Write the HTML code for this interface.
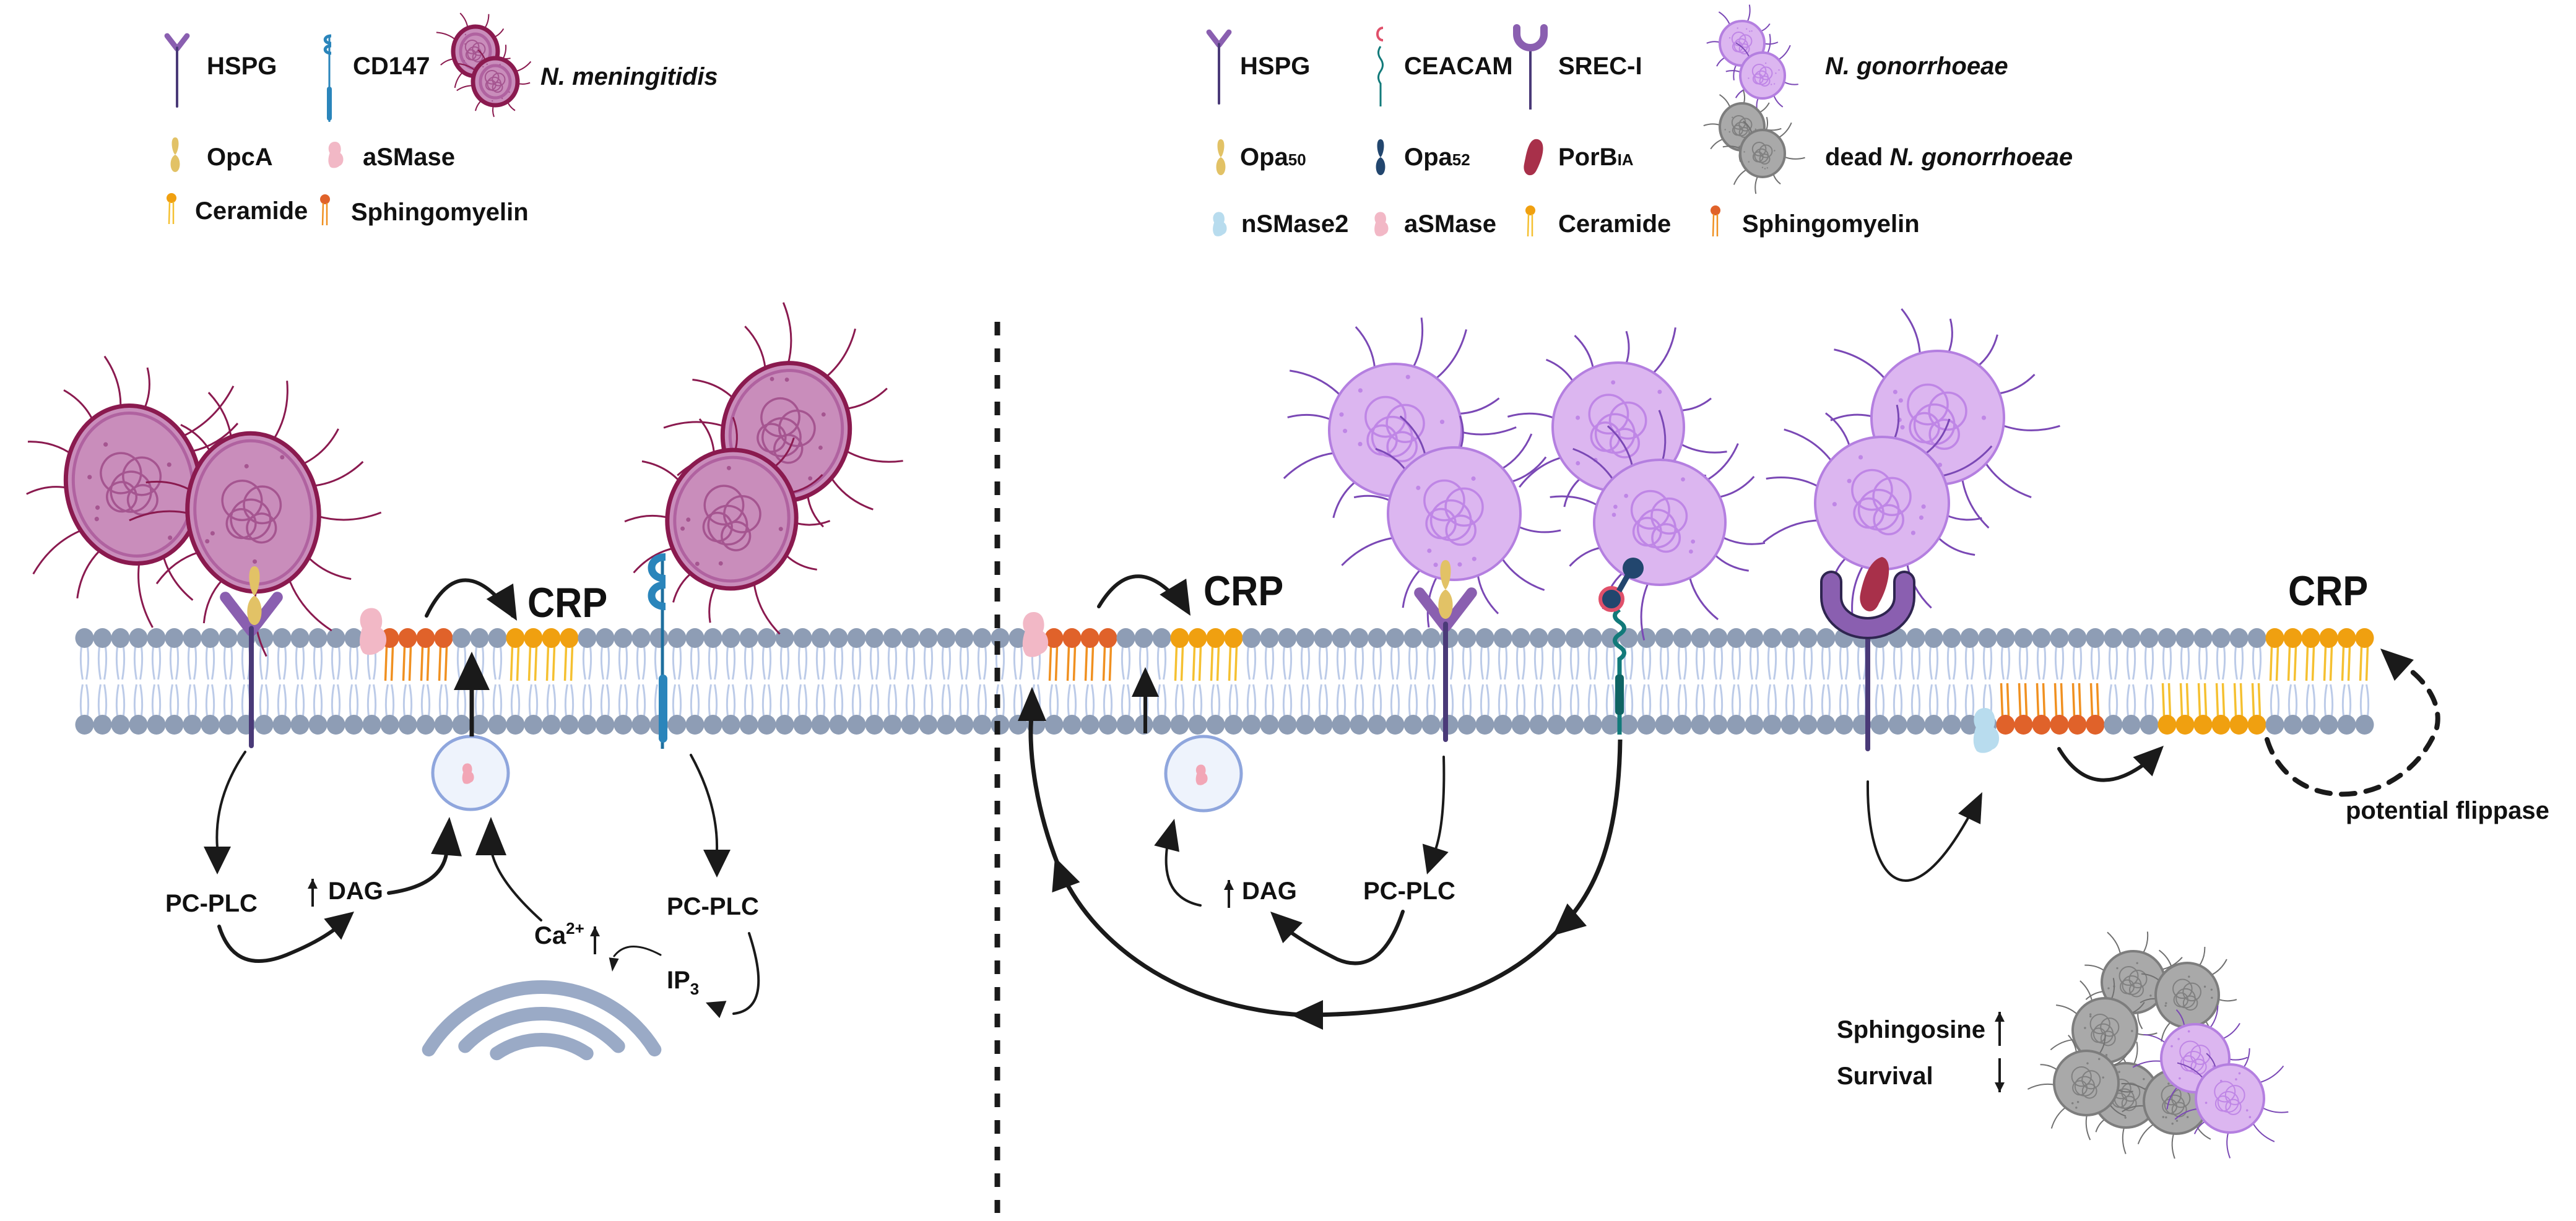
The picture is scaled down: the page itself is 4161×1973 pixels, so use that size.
<!DOCTYPE html>
<html><head><meta charset="utf-8">
<style>
html,body{margin:0;padding:0;background:#fff;}
svg{display:block;}
text{font-family:"Liberation Sans",Arial,sans-serif;font-weight:bold;fill:#111;}
</style></head>
<body>
<svg id="s" width="4161" height="1973" viewBox="0 0 4161 1973" xmlns="http://www.w3.org/2000/svg">
</svg>
<script>
(function(){
var S=document.getElementById('s');
var o='';
var seed=7;function rnd(){seed=(seed*9301+49297)%233280;return seed/233280;}
function head(x,y,ang,L,W){var c=Math.cos(ang),s=Math.sin(ang);
 var bx=x-c*L,by=y-s*L;
 return '<polygon points="'+x+','+y+' '+(bx-s*W/2)+','+(by+c*W/2)+' '+(bx+s*W/2)+','+(by-c*W/2)+'" fill="#1a1a1a"/>';}
function arrow(d,ex,ey,px,py,sw,L,W,dash){
 o+='<path d="'+d+'" fill="none" stroke="#1a1a1a" stroke-width="'+sw+'" stroke-linecap="round"'+(dash?' stroke-dasharray="'+dash+'"':'')+'/>';
 o+=head(ex,ey,Math.atan2(ey-py,ex-px),L,W);}
var x0=122,sp=29,N=128;
var m='';
for(var k=0;k<N;k++){var cx=x0+14.5+sp*k;
 m+='<path d="M'+(cx-5)+' 1045 Q'+(cx-8)+' 1070 '+(cx-3)+' 1098 M'+(cx+5)+' 1045 Q'+(cx+8)+' 1070 '+(cx+3)+' 1098 M'+(cx-3)+' 1106 Q'+(cx-8)+' 1132 '+(cx-5)+' 1157 M'+(cx+3)+' 1106 Q'+(cx+8)+' 1132 '+(cx+5)+' 1157" stroke="#bccbe8" stroke-width="3" fill="none"/>';
}
o+=m;
function lipid(k,top,col,tc){var cx=x0+14.5+sp*k;
 var y1=top?1045:1157,y2=top?1100:1104;
 o+='<rect x="'+(cx-13)+'" y="'+Math.min(y1,y2)+'" width="26" height="'+Math.abs(y2-y1)+'" fill="#fff"/>';
 o+='<path d="M'+(cx-5)+' '+y1+' L'+(cx-7)+' '+y2+' M'+(cx+5)+' '+y1+' L'+(cx+3)+' '+y2+'" stroke="'+tc+'" stroke-width="3.5" fill="none"/>';
 return cx;}
var spec={};
function setSpec(a,b,top,col,tc){for(var k=a;k<=b;k++){lipid(k,top,col,tc);spec[(top?'t':'b')+k]=col;}}
setSpec(17,20,true,'#e0622a','#f09020');
setSpec(24,27,true,'#f0a010','#f5c030');
setSpec(54,57,true,'#e0622a','#f09020');
setSpec(61,64,true,'#f0a010','#f5c030');
setSpec(122,127,true,'#f0a010','#f5c030');
setSpec(107,112,false,'#e0622a','#f09020');
setSpec(116,121,false,'#f0a010','#f5c030');
for(var k=0;k<N;k++){var cx=x0+14.5+sp*k;
 o+='<ellipse cx="'+cx+'" cy="1031" rx="15" ry="16" fill="'+(spec['t'+k]||'#8e9db5')+'"/>';
 o+='<ellipse cx="'+cx+'" cy="1171" rx="15" ry="16" fill="'+(spec['b'+k]||'#8e9db5')+'"/>';}
function cell(cx,cy,rx,ry,t,hairs,rot){
 var P={m:{f:'#c98dbb',s:'#8a1a4f',h:'#8a1a4f',i:'#a55590',sw:7},
        g:{f:'#dcb6f0',s:'#b47fe0',h:'#7a48b5',i:'#bf86e6',sw:4},
        d:{f:'#a9a9a9',s:'#7d7d7d',h:'#707070',i:'#808080',sw:4}}[t];
 var r='';var n=hairs||12;
 for(var i=0;i<n;i++){var a=(i/n)*Math.PI*2+rnd()*0.3;var c=Math.cos(a),s=Math.sin(a);
  var ex=cx+c*rx*0.97,ey=cy+s*ry*0.97;var L=(0.5+rnd()*0.4)*Math.max(rx,ry);
  var mx=ex+c*L*0.5-s*L*0.12,my=ey+s*L*0.5+c*L*0.12;
  r+='<path d="M'+ex+' '+ey+' Q'+mx+' '+my+' '+(ex+c*L+s*L*0.1)+' '+(ey+s*L-c*L*0.1)+'" stroke="'+P.h+'" stroke-width="'+(Math.max(rx,ry)>70?3:2)+'" fill="none"/>';}
 var g='<g transform="rotate('+(rot||0)+' '+cx+' '+cy+')">';
 g+='<ellipse cx="'+cx+'" cy="'+cy+'" rx="'+rx+'" ry="'+ry+'" fill="'+P.f+'" stroke="'+P.s+'" stroke-width="'+P.sw+'"/>';
 if(t=='m')g+='<ellipse cx="'+cx+'" cy="'+cy+'" rx="'+(rx-12)+'" ry="'+(ry-12)+'" fill="none" stroke="#b062a0" stroke-width="5"/>';
 var q=Math.min(rx,ry);
 var offs=[[-0.15,-0.2,0.3],[0.15,-0.1,0.28],[-0.05,0.1,0.3],[0.1,0.25,0.22],[-0.2,0.15,0.22]];
 for(var j=0;j<offs.length;j++)g+='<circle cx="'+(cx+offs[j][0]*q)+'" cy="'+(cy+offs[j][1]*q)+'" r="'+(offs[j][2]*q)+'" fill="none" stroke="'+P.i+'" stroke-width="'+(q>60?3.5:2)+'"/>';
 for(var j=0;j<6;j++){var a=rnd()*6.28,rr=0.55+rnd()*0.3;g+='<circle cx="'+(cx+Math.cos(a)*rx*rr)+'" cy="'+(cy+Math.sin(a)*ry*rr)+'" r="'+(q/30)+'" fill="'+P.i+'"/>';}
 g+='</g>';
 o+=r+g;}
cell(215,783,108,128,'m',13,-10);
cell(409,828,106,128,'m',13,-6);
cell(1270,698,102,112,'m',12,15);
cell(1182,839,104,112,'m',12,8);
cell(2254,695,107,107,'g',12,0);
cell(2349,830,107,107,'g',12,0);
cell(2614,690,106,104,'g',12,0);
cell(2681,844,106,101,'g',12,0);
cell(3130,675,107,108,'g',12,0);
cell(3040,813,108,107,'g',12,0);
cell(3446,1587,51,50,'d',9);cell(3533,1608,51,52,'d',9);cell(3400,1665,52,52,'d',9);
cell(3434,1770,52,52,'d',9);cell(3370,1750,52,52,'d',9);cell(3515,1780,52,52,'d',9);
cell(3546,1710,55,55,'g',9);cell(3602,1775,55,55,'g',9);
cell(768,83,36,40,'m',9);cell(800,132,36,38,'m',9);
cell(2814,70,36,36,'g',8);cell(2847,122,36,37,'g',8);
cell(2814,205,36,38,'d',8);cell(2847,248,36,38,'d',8);
S.insertAdjacentHTML('beforeend',o);o='';
function hspg(x,top,bot,sw,arm){o+='<path d="M'+(x-arm)+' '+top+' L'+x+' '+(top+arm*1.3)+' L'+(x+arm)+' '+top+'" stroke="#8a5fb0" stroke-width="'+(sw*2.2)+'" fill="none" stroke-linejoin="round" stroke-linecap="round"/>';
 o+='<line x1="'+x+'" y1="'+(top+arm*1.2)+'" x2="'+x+'" y2="'+bot+'" stroke="#4a3a78" stroke-width="'+sw+'" stroke-linecap="round"/>';}
hspg(406,965,1205,8,42);
hspg(2335,958,1195,8,42);
hspg(286,58,172,4,16);hspg(1969,52,167,4,16);
function opa(x,y1,y2,c,w){var m=(y1+y2)/2;o+='<path d="M'+x+' '+y1+' C'+(x+w)+' '+y1+' '+(x+w*0.6)+' '+(m-w*0.5)+' '+x+' '+m+' C'+(x+w*1.2)+' '+(m+w*0.6)+' '+(x+w)+' '+y2+' '+x+' '+y2+' C'+(x-w)+' '+y2+' '+(x-w*1.2)+' '+(m+w*0.6)+' '+x+' '+m+' C'+(x-w*0.6)+' '+(m-w*0.5)+' '+(x-w)+' '+y1+' '+x+' '+y1+'Z" fill="'+c+'"/>';}
opa(411,915,1010,'#e2c266',14);opa(2335,905,1000,'#e2c266',14);
opa(283,222,278,'#e2c266',9);opa(1972,225,283,'#e2c266',9);opa(2230,225,283,'#22466e',9);
o+='<line x1="1070" y1="900" x2="1070" y2="1210" stroke="#1e6f9e" stroke-width="5"/>';
o+='<path d="M1075 900 C1045 900 1045 935 1075 935 M1075 945 C1045 945 1045 980 1075 980" stroke="#2a85bb" stroke-width="12" fill="none"/>';
o+='<rect x="1064" y="1090" width="14" height="110" rx="7" fill="#2a85bb"/>';
o+='<line x1="532" y1="60" x2="532" y2="197" stroke="#2a85bb" stroke-width="3"/><path d="M535 58 C522 58 522 70 535 70 M535 74 C522 74 522 86 535 86" stroke="#2a85bb" stroke-width="5" fill="none"/><rect x="528" y="140" width="8" height="55" rx="4" fill="#2a85bb"/>';
o+='<path d="M2616 985 q-15 10 0 20 q15 10 0 20 q-15 10 0 20 q15 10 0 20 L2616 1187" stroke="#127a7a" stroke-width="7" fill="none"/>';
o+='<rect x="2609" y="1090" width="14" height="65" rx="5" fill="#0f6464"/>';
o+='<circle cx="2603" cy="968" r="18" fill="#22466e" stroke="#e0506a" stroke-width="6"/>';
o+='<path d="M2615 955 L2632 925" stroke="#22466e" stroke-width="9"/><circle cx="2638" cy="918" r="17" fill="#22466e"/>';
o+='<path d="M2230 75 q-7 10 0 20 q7 10 0 20 q-7 10 0 20 L2230 172" stroke="#127a7a" stroke-width="3" fill="none"/><path d="M2234 45 C2222 45 2222 65 2234 65" stroke="#e0506a" stroke-width="4" fill="none"/>';
o+='<line x1="3017" y1="1010" x2="3017" y2="1210" stroke="#4a3a78" stroke-width="8" stroke-linecap="round"/>';
o+='<path d="M2958 940 L2958 965 A59 50 0 0 0 3076 965 L3076 940" stroke="#2f2550" stroke-width="36" fill="none" stroke-linecap="round"/>';
o+='<path d="M2958 940 L2958 965 A59 50 0 0 0 3076 965 L3076 940" stroke="#8a5fb0" stroke-width="28" fill="none" stroke-linecap="round"/>';
o+='<path d="M3040 900 C3060 905 3050 950 3035 975 C3025 1000 3000 985 3005 960 C3010 935 3020 905 3040 900Z" fill="#a8304a"/>';
o+='<line x1="2472" y1="75" x2="2472" y2="177" stroke="#4a3a78" stroke-width="4"/><path d="M2450 45 L2450 55 A22 22 0 0 0 2494 55 L2494 45" stroke="#8a5fb0" stroke-width="12" fill="none" stroke-linecap="round"/>';
o+='<path d="M2484 225 C2500 230 2490 260 2482 275 C2475 290 2458 283 2462 265 C2466 245 2470 222 2484 225Z" fill="#a8304a"/>';
function blob(x,y,s,c){o+='<path d="M'+x+' '+(y-30*s)+' c'+(14*s)+' 0 '+(16*s)+' '+(18*s)+' '+(12*s)+' '+(26*s)+' c'+(10*s)+' '+(6*s)+' '+(10*s)+' '+(26*s)+' '+(-2*s)+' '+(30*s)+' c'+(-6*s)+' '+(6*s)+' '+(-20*s)+' '+(6*s)+' '+(-22*s)+' 0 c'+(-6*s)+' '+(-10*s)+' '+(-2*s)+' '+(-24*s)+' 0 '+(-30*s)+' c'+(-6*s)+' '+(-10*s)+' '+(-2*s)+' '+(-26*s)+' '+(12*s)+' '+(-26*s)+'z" fill="'+c+'"/>';}
blob(600,1020,1.25,'#f2b8c6');blob(1670,1025,1.2,'#f2b8c6');
blob(3206,1180,1.2,'#b8dcee');
blob(541,250,0.7,'#f2b8c6');blob(2230,362,0.65,'#f2b8c6');blob(1969,362,0.65,'#b8dcee');
o+='<ellipse cx="760" cy="1249" rx="61" ry="59" fill="#eef3fc" stroke="#8fa6dd" stroke-width="5"/>';
o+='<ellipse cx="1944" cy="1250" rx="61" ry="60" fill="#eef3fc" stroke="#8fa6dd" stroke-width="5"/>';
blob(755,1250,0.55,'#f2a6b6');blob(1940,1252,0.55,'#f2a6b6');
function lipIcon(x,y,c,tc){o+='<circle cx="'+x+'" cy="'+y+'" r="8" fill="'+c+'"/><path d="M'+(x-3)+' '+(y+6)+' L'+(x-4)+' '+(y+42)+' M'+(x+3)+' '+(y+6)+' L'+(x+3)+' '+(y+42)+'" stroke="'+tc+'" stroke-width="2.5"/>';}
lipIcon(277,320,'#f0a010','#f5c030');lipIcon(525,322,'#e0622a','#f09020');
lipIcon(2472,340,'#f0a010','#f5c030');lipIcon(2771,340,'#e0622a','#f09020');
// ER concentric arcs
function arcp(cx,cy,r,deg){var a=deg*Math.PI/180;var x1=cx-r*Math.sin(a),x2=cx+r*Math.sin(a),y=cy-r*Math.cos(a);return 'M'+x1+' '+y+' A'+r+' '+r+' 0 0 1 '+x2+' '+y;}
o+='<g fill="none" stroke="#9aaac6" stroke-linecap="round" stroke-width="22">';
o+='<path d="'+arcp(875,1810,215,58)+'"/><path d="'+arcp(875,1810,172,46)+'"/><path d="'+arcp(875,1810,130,34)+'"/>';
o+='</g>';
o+='<line x1="1611" y1="520" x2="1611" y2="1960" stroke="#1a1a1a" stroke-width="9" stroke-dasharray="22 21"/>';
var K=6,T=4;
arrow('M689 995 Q745 880 828 995',835,1003,810,960,K,55,50);
o+='<line x1="762" y1="1190" x2="762" y2="1100" stroke="#1a1a1a" stroke-width="7"/>'+head(762,1053,-Math.PI/2,62,58);
arrow('M396 1215 Q345 1290 351 1370',351,1413,351,1370,T,45,44);
arrow('M354 1497 Q380 1580 470 1540 Q530 1515 560 1485',572,1473,555,1487,K,45,44);
arrow('M628 1443 Q720 1430 722 1370',726,1320,722,1370,K,62,50);
arrow('M874 1487 Q800 1420 793 1370',793,1320,793,1370,T,62,50);
arrow('M1116 1220 Q1160 1300 1158 1375',1158,1418,1158,1375,T,45,44);
arrow('M1210 1508 Q1250 1630 1185 1638',1140,1620,1185,1638,T,30,30);
arrow('M1067 1543 Q1015 1515 992 1545',989,1570,992,1545,3,22,16);
arrow('M1775 980 Q1835 880 1915 985',1923,995,1905,965,K,55,50);
o+='<line x1="1850" y1="1185" x2="1850" y2="1110" stroke="#1a1a1a" stroke-width="6"/>'+head(1850,1078,-Math.PI/2,48,44);
arrow('M2332 1223 Q2335 1340 2314 1385',2305,1413,2314,1385,T,45,44);
arrow('M2266 1473 Q2230 1580 2160 1550 Q2100 1520 2070 1495',2052,1473,2075,1495,K,50,46);
arrow('M1939 1463 Q1875 1450 1885 1370',1897,1323,1885,1370,T,50,42);
o+='<path d="M2617 1195 C2615 1350 2580 1440 2520 1500 C2420 1610 2280 1640 2105 1640 C1900 1630 1760 1520 1710 1400 C1670 1300 1660 1200 1667 1150" fill="none" stroke="#1a1a1a" stroke-width="7"/>';
o+=head(2508,1512,Math.atan2(1512-1480,2508-2545),52,48);
o+=head(2085,1640,Math.PI,52,48);
o+=head(1704,1385,Math.atan2(-60,-22),52,48);
o+=head(1667,1110,-Math.PI/2,55,46);
arrow('M3017 1263 C3015 1420 3080 1500 3180 1320',3202,1280,3185,1315,T,48,40);
arrow('M3326 1210 Q3380 1300 3470 1230',3495,1205,3472,1228,K,48,44);
arrow('M3662 1195 C3700 1320 3880 1310 3935 1180 C3950 1130 3900 1080 3870 1070',3845,1048,3880,1080,8,52,46,'22 18');
function tx(x,y,s,opt){o+='<text x="'+x+'" y="'+y+'" font-size="'+((opt&&opt.fs)||40)+'"'+((opt&&opt.it)?' font-style="italic"':'')+'>'+s+'</text>';}
tx(334,120,'HSPG');tx(570,120,'CD147');tx(873,137,'N. meningitidis',{it:1});
tx(334,267,'OpcA');tx(586,267,'aSMase');
tx(315,354,'Ceramide');tx(567,356,'Sphingomyelin');
tx(2003,120,'HSPG');tx(2268,120,'CEACAM');tx(2517,120,'SREC-I');tx(2948,120,'N. gonorrhoeae',{it:1});
o+='<text x="2003" y="267" font-size="40">Opa<tspan font-size="26">50</tspan></text>';
o+='<text x="2268" y="267" font-size="40">Opa<tspan font-size="26">52</tspan></text>';
o+='<text x="2517" y="267" font-size="40">PorB<tspan font-size="26">IA</tspan></text>';
o+='<text x="2948" y="267" font-size="40">dead <tspan font-style="italic">N. gonorrhoeae</tspan></text>';
tx(2005,375,'nSMase2');tx(2268,375,'aSMase');tx(2517,375,'Ceramide');tx(2814,375,'Sphingomyelin');
o+='<text x="852" y="997" font-size="68" transform="translate(852 0) scale(0.9 1) translate(-852 0)">CRP</text>';
o+='<text x="1944" y="978" font-size="68" transform="translate(1944 0) scale(0.9 1) translate(-1944 0)">CRP</text>';
o+='<text x="3696" y="978" font-size="68" transform="translate(3696 0) scale(0.9 1) translate(-3696 0)">CRP</text>';
tx(267,1473,'PC-PLC');tx(530,1453,'DAG');tx(1077,1478,'PC-PLC');
o+='<text x="863" y="1525" font-size="40">Ca<tspan font-size="26" dy="-16">2+</tspan></text>';
o+='<text x="1077" y="1597" font-size="40">IP<tspan font-size="26" dy="10">3</tspan></text>';
tx(2006,1453,'DAG');tx(2202,1453,'PC-PLC');
tx(3789,1323,'potential flippase');
tx(2967,1677,'Sphingosine');tx(2967,1752,'Survival');
function ud(x,y1,y2){o+='<line x1="'+x+'" y1="'+y1+'" x2="'+x+'" y2="'+y2+'" stroke="#1a1a1a" stroke-width="4"/>';o+=head(x,y2,Math.atan2(y2-y1,0),16,16);}
ud(505,1465,1420);ud(961,1542,1497);ud(1985,1467,1422);ud(3230,1690,1635);ud(3230,1710,1765);
S.insertAdjacentHTML('beforeend',o);
})();
</script>
</body></html>
